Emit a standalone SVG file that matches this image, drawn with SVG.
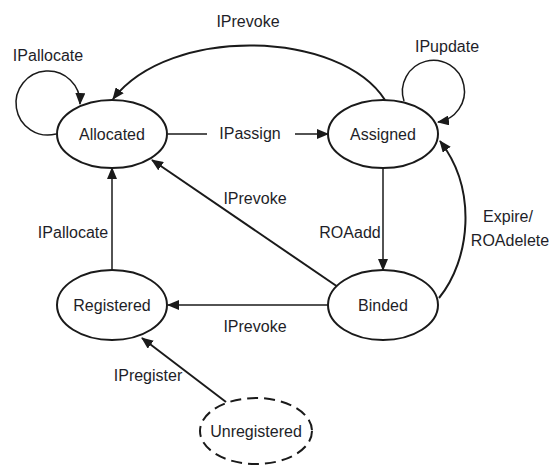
<svg xmlns="http://www.w3.org/2000/svg" width="549" height="465" viewBox="0 0 549 465">
  <style>
    .state { fill: #ffffff; stroke: #1a1a1a; stroke-width: 2; }
    .dashed { stroke-dasharray: 11 6; }
    .edge { fill: none; stroke: #1a1a1a; stroke-width: 1.5; }
    .thick { stroke-width: 2; }
    text { font-family: "Liberation Sans", Arial, sans-serif; font-size: 16px; fill: #1e1e28; text-anchor: middle; }
  </style>
  <defs>
    <marker id="arrow" markerUnits="userSpaceOnUse" markerWidth="12" markerHeight="10" refX="11" refY="5" orient="auto">
      <path d="M0,0 L12,5 L0,10 Z" fill="#1a1a1a"/>
    </marker>
  </defs>

  <!-- transitions -->
  <g id="connectors">
    <path class="edge" d="M56,134 A32 32 0 1 1 80,104" marker-end="url(#arrow)"/>
    <path class="edge" d="M404,101 A31 31 0 1 1 438,122" marker-end="url(#arrow)"/>
    <path class="edge thick" d="M385,100 C340,30 170,25 113,99" marker-end="url(#arrow)"/>
    <path class="edge" d="M168,134 L207,134"/>
    <path class="edge" d="M295,134 L328,134" marker-end="url(#arrow)"/>
    <path class="edge" d="M383,168 L383,270" marker-end="url(#arrow)"/>
    <path class="edge thick" d="M439,298 C470,260 478,190 440,141" marker-end="url(#arrow)"/>
    <path class="edge thick" d="M338,287 L152,160" marker-end="url(#arrow)"/>
    <path class="edge" d="M112,270 L112,168" marker-end="url(#arrow)"/>
    <path class="edge" d="M328,305 L168,305" marker-end="url(#arrow)"/>
    <path class="edge thick" d="M226,402 L142,338" marker-end="url(#arrow)"/>

    <text x="48" y="61">IPallocate</text>
    <text x="447" y="52">IPupdate</text>
    <text x="248" y="27">IPrevoke</text>
    <text x="250" y="139">IPassign</text>
    <text x="350" y="238">ROAadd</text>
    <text x="508" y="222">Expire/</text>
    <text x="510" y="246">ROAdelete</text>
    <text x="255" y="204">IPrevoke</text>
    <text x="73" y="238">IPallocate</text>
    <text x="255" y="332">IPrevoke</text>
    <text x="148" y="381">IPregister</text>
  </g>

  <g id="allocated">
    <ellipse class="state" cx="112" cy="134" rx="55" ry="34"/>
    <text x="112" y="140">Allocated</text>
  </g>
  <g id="assigned">
    <ellipse class="state" cx="383" cy="134" rx="55" ry="34"/>
    <text x="383" y="140">Assigned</text>
  </g>
  <g id="registered">
    <ellipse class="state" cx="112" cy="305" rx="55" ry="35"/>
    <text x="112" y="311">Registered</text>
  </g>
  <g id="binded">
    <ellipse class="state" cx="383" cy="305" rx="55" ry="35"/>
    <text x="383" y="311">Binded</text>
  </g>
  <g id="unregistered">
    <ellipse class="state dashed" cx="256" cy="431" rx="56" ry="33"/>
    <text x="256" y="437">Unregistered</text>
  </g>
</svg>
